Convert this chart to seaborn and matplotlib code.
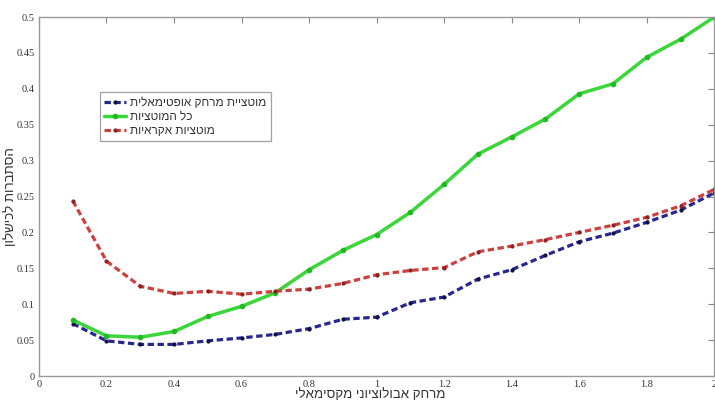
import matplotlib
matplotlib.use("Agg")
import matplotlib.pyplot as plt
import seaborn as sns
import pandas as pd

# data
distance = [0.1, 0.2, 0.3, 0.4, 0.5, 0.6, 0.7, 0.8, 0.9, 1.0,
            1.1, 1.2, 1.3, 1.4, 1.5, 1.6, 1.7, 1.8, 1.9, 2.0]
optimal = [0.073, 0.049, 0.044, 0.044, 0.049, 0.053, 0.058, 0.066, 0.079, 0.082,
           0.102, 0.110, 0.135, 0.148, 0.168, 0.187, 0.199, 0.214, 0.231, 0.255]
all_mut = [0.078, 0.056, 0.054, 0.062, 0.083, 0.097, 0.116, 0.148, 0.175, 0.197,
           0.228, 0.267, 0.309, 0.333, 0.358, 0.393, 0.407, 0.444, 0.469, 0.500]
random_mut = [0.244, 0.160, 0.125, 0.115, 0.118, 0.114, 0.118, 0.121, 0.129, 0.141,
              0.147, 0.151, 0.173, 0.181, 0.190, 0.200, 0.210, 0.221, 0.237, 0.260]

labels = ["מוטציית מרחק אופטימאלית", "כל המוטציות", "מוטציות אקראיות"]
xlabel = "מרחק אבולוציוני מקסימאלי"
ylabel = "הסתברות לכישלון"
xticks = [0, 0.2, 0.4, 0.6, 0.8, 1, 1.2, 1.4, 1.6, 1.8, 2]
yticks = [0, 0.05, 0.1, 0.15, 0.2, 0.25, 0.3, 0.35, 0.4, 0.45, 0.5]


def vis(s):
    # matplotlib has no bidi support, so put Hebrew in visual order
    return s[::-1]


sns.set_style("white")
plt.rcParams['font.family'] = ['Liberation Serif', 'DejaVu Sans']
heb_font = ['Liberation Sans', 'DejaVu Sans']

df = pd.DataFrame({"x": distance, "opt": optimal, "all": all_mut, "rnd": random_mut})

fig = plt.figure(figsize=(7.15, 4.19), dpi=100)
ax = fig.add_axes([0.0545, 0.1026, 0.9445, 0.8568])

sns.lineplot(data=df, x="x", y="opt", ax=ax, color="#27278f", dashes=(2.0, 1.1),
             linewidth=2.3, marker=".", markersize=4.5, markerfacecolor="#101040",
             markeredgecolor="#101040", label=vis(labels[0]))
sns.lineplot(data=df, x="x", y="all", ax=ax, color="#3ad63a", linestyle="-",
             linewidth=2.5, marker=".", markersize=6.5, markerfacecolor="#22b822",
             markeredgecolor="#22b822", label=vis(labels[1]))
sns.lineplot(data=df, x="x", y="rnd", ax=ax, color="#cc4040", dashes=(2.0, 1.1),
             linewidth=2.3, marker=".", markersize=4.5, markerfacecolor="#8a2020",
             markeredgecolor="#8a2020", label=vis(labels[2]))

ax.set_xlim(0, 2)
ax.set_ylim(0, 0.5)
ax.set_xticks(xticks)
ax.set_xticklabels([f"{t:g}" for t in xticks])
ax.set_yticks(yticks)
ax.set_yticklabels([f"{t:g}" for t in yticks])
ax.tick_params(direction="in", length=4, width=0.8, color="#888888",
               labelsize=7.5, labelcolor="#333333", top=True, right=True,
               pad=3)
for sp in ax.spines.values():
    sp.set_visible(True)
    sp.set_color("#9a9a9a")
    sp.set_linewidth(1.0)

ax.set_xlabel(vis(xlabel), fontsize=9.5, color="#333333", family=heb_font)
ax.xaxis.set_label_coords(0.49, -0.034)
ax.set_ylabel(vis(ylabel), fontsize=9.5, color="#333333", family=heb_font)
ax.yaxis.set_label_coords(-0.033, 0.5)

leg = ax.legend(loc="upper left", bbox_to_anchor=(0.090, 0.790), borderaxespad=0,
                prop={"family": heb_font, "size": 8.5}, frameon=True,
                fancybox=False, handlelength=1.8, handletextpad=0.4,
                labelspacing=0.15, borderpad=0.4)
leg.get_frame().set_edgecolor("#8a8a8a")
leg.get_frame().set_linewidth(0.9)
for t in leg.get_texts():
    t.set_color("#333333")

fig.savefig("out.png", dpi=100)
